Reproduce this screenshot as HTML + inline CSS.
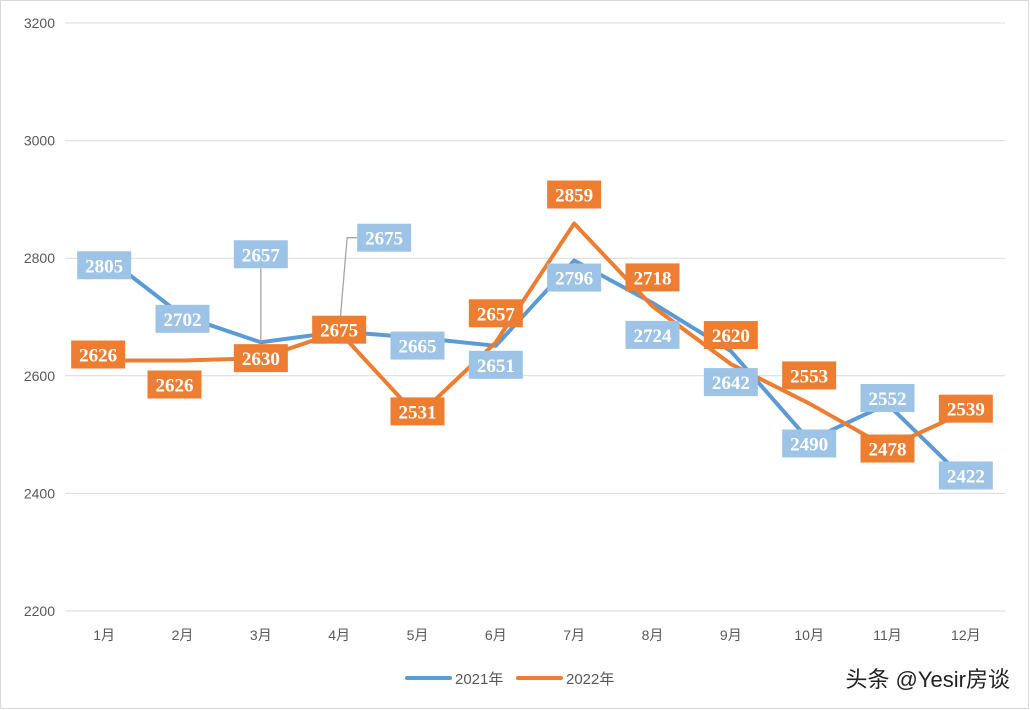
<!DOCTYPE html>
<html><head><meta charset="utf-8"><style>
html,body{margin:0;padding:0;background:#fff;}
svg{display:block;}
</style></head><body>
<svg id="chart" width="1030" height="710" xmlns="http://www.w3.org/2000/svg" font-family="Liberation Sans, Noto Sans CJK SC, sans-serif">
<rect x="0.5" y="0.5" width="1028" height="708" fill="#fff" stroke="#d9d9d9"/>
<g id="grid"></g><g id="lines"></g><g id="labels"></g>
<g>
<line x1="407" y1="678" x2="450" y2="678" stroke="#5b9bd5" stroke-width="4" stroke-linecap="round"/>
<text x="455" y="684" font-size="15" fill="#595959">2021年</text>
<line x1="518" y1="678" x2="561" y2="678" stroke="#ed7d31" stroke-width="4" stroke-linecap="round"/>
<text x="566" y="684" font-size="15" fill="#595959">2022年</text>
</g>
<text x="1010" y="687" text-anchor="end" font-size="22" fill="#222">头条 @Yesir房谈</text>
</svg>
<script>
const categories=["1月","2月","3月","4月","5月","6月","7月","8月","9月","10月","11月","12月"];
const series2021=[2805,2702,2657,2675,2665,2651,2796,2724,2642,2490,2552,2422];
const series2022=[2626,2626,2630,2675,2531,2657,2859,2718,2620,2553,2478,2539];
const yTicks=[2200,2400,2600,2800,3000,3200];
const off2021=[[0,10],[0,3],[0,-88],[45,-94],[0,8],[0,19],[0,17],[0,32],[0,31],[0,3],[0,-6],[0,-5]];
const off2022=[[-6,-6],[-8,24],[0,0],[0,-2],[0,-5],[0,-29],[0,-29],[0,-29],[0,-29],[0,-28],[0,1],[0,-3]];
const leader2021=[false,false,true,true,false,false,false,false,false,false,false,false];
const NS="http://www.w3.org/2000/svg";
const x0=65,x1=1005,yTop=23,yBot=611,yMin=2200,yMax=3200;
const xs=i=>x0+(i+0.5)*(x1-x0)/categories.length;
const ys=v=>yBot-(v-yMin)/(yMax-yMin)*(yBot-yTop);
function mk(tag,attrs,parent){const e=document.createElementNS(NS,tag);for(const k in attrs)e.setAttribute(k,attrs[k]);parent.appendChild(e);return e;}
const grid=document.getElementById('grid');
yTicks.forEach(t=>{
 const l=mk('line',{x1:x0,x2:x1,y1:ys(t),y2:ys(t),stroke:'#d9d9d9','stroke-width':1},grid);
 
 
 const tx=mk('text',{x:55,y:ys(t)+5,'text-anchor':'end','font-size':14,fill:'#595959'},grid);
 tx.textContent=t;
 
 
});
categories.forEach((c,i)=>{
 const tx=mk('text',{x:xs(i),y:640,'text-anchor':'middle','font-size':14,fill:'#595959'},grid);
 tx.textContent=c;
 
 
});
const lines=document.getElementById('lines'),labels=document.getElementById('labels');
function draw(data,offs,lineColor,boxColor,name,leaders){
 const p=mk('polyline',{points:data.map((v,i)=>xs(i)+','+ys(v)).join(' '),fill:'none',stroke:lineColor,'stroke-width':4,'stroke-linejoin':'round','stroke-linecap':'round'},lines);
 
 
 data.forEach((v,i)=>{
  const px=xs(i),py=ys(v),lx=px+offs[i][0],ly=py+offs[i][1];
  if(leaders&&leaders[i]){
   const ld=mk('polyline',{points:px+','+py+' '+(lx-(offs[i][0]?37:0))+','+(ly+(offs[i][0]?0:14))+(offs[i][0]?' '+(lx-27)+','+ly:''),fill:'none',stroke:'#a6a6a6','stroke-width':1.3},labels);
   
   
  }
  const r=mk('rect',{x:lx-27,y:ly-14,width:54,height:28,fill:boxColor},labels);
  
  
  const t=mk('text',{x:lx,y:ly+7,'text-anchor':'middle','font-size':19,'font-weight':'bold','font-family':'Liberation Serif, serif',fill:'#fff'},labels);
  t.textContent=v;
  
  
 });
}
draw(series2021,off2021,'#5b9bd5','#9dc3e6','series-2021',leader2021);
draw(series2022,off2022,'#ed7d31','#ed7d31','series-2022',null);
</script>
</body></html>
